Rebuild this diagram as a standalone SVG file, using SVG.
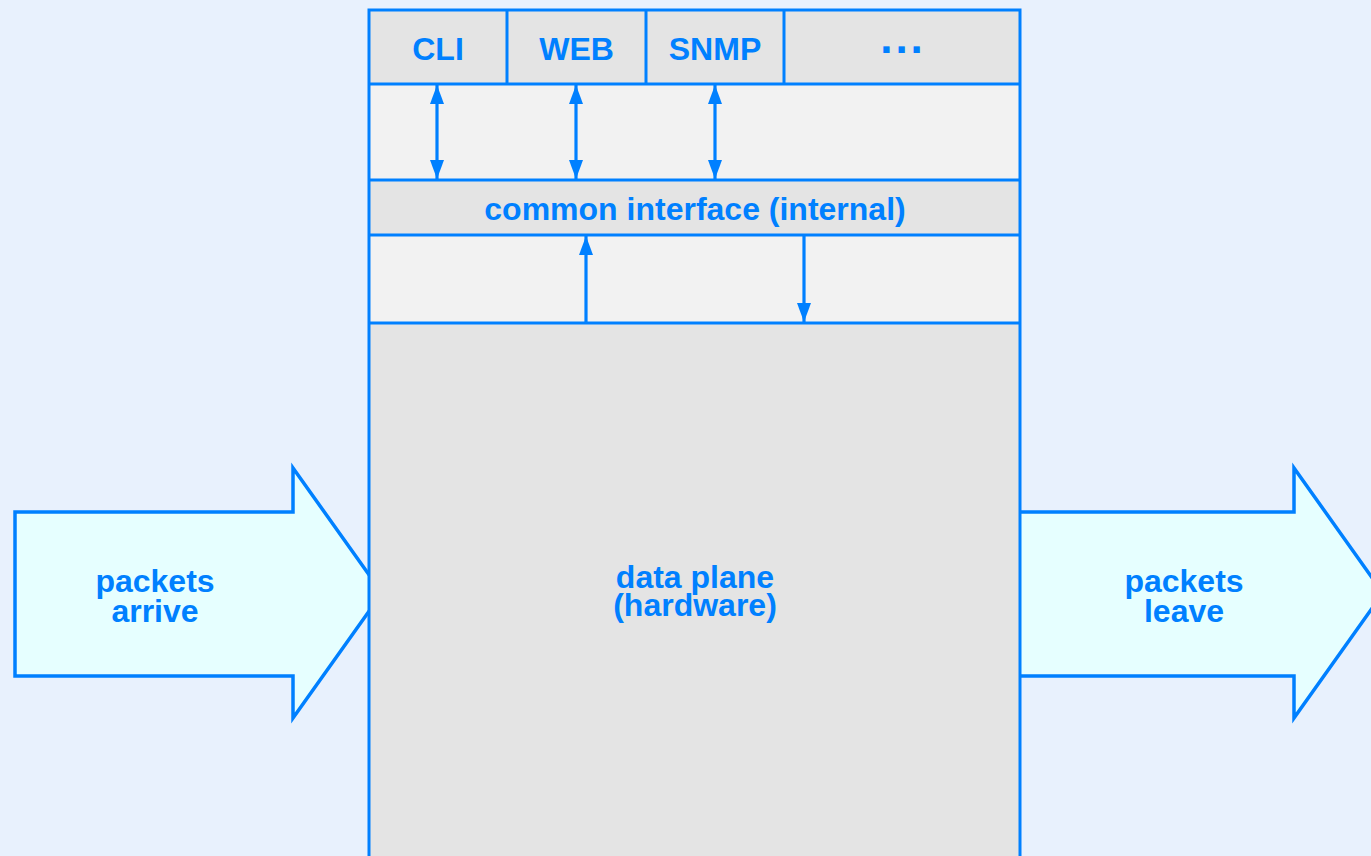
<svg xmlns="http://www.w3.org/2000/svg" width="1371" height="856" viewBox="0 0 1371 856">
<style>
.ln{stroke:#0080ff;stroke-width:3;fill:none}
.dark{fill:#e4e4e4}
.light{fill:#f2f2f2}
.blk{fill:#e6ffff;stroke:#0080ff;stroke-width:3.5;stroke-linejoin:miter}
.t{font-family:"Liberation Sans",Arial,Helvetica,sans-serif;font-weight:bold;font-size:32px;fill:#0080ff;text-anchor:middle}
.con{stroke:#0080ff;stroke-width:3.2;fill:none}
</style>
<defs>
<marker id="ah" markerUnits="userSpaceOnUse" markerWidth="19" markerHeight="14" refX="19" refY="7" orient="auto-start-reverse" viewBox="0 0 19 14">
<path d="M0,0 L19,7 L0,14 z" fill="#0080ff"/>
</marker>
</defs>
<rect x="0" y="0" width="1371" height="856" fill="#e8f1fd"/>
<g id="arrow-in">
<polygon class="blk" points="15,512 293,512 293,468 382,593 293,718 293,676 15,676"/>
<text class="t" x="155" y="592">packets</text>
<text class="t" x="155" y="622">arrive</text>
</g>
<g id="arrow-out">
<polygon class="blk" points="1016,512 1294,512 1294,468 1383,593 1294,718 1294,676 1016,676"/>
<text class="t" x="1184" y="592">packets</text>
<text class="t" x="1184" y="622">leave</text>
</g>
<g id="switch">
<rect class="dark" x="369" y="10" width="651" height="74"/>
<rect class="light" x="369" y="84" width="651" height="96"/>
<rect class="dark" x="369" y="180" width="651" height="55"/>
<rect class="light" x="369" y="235" width="651" height="88"/>
<rect class="dark" x="369" y="323" width="651" height="540"/>
<path class="ln" d="M369,870 V10 H1020 V870 M369,84 H1020 M369,180 H1020 M369,235 H1020 M369,323 H1020"/>
</g>
<g id="cli"><path class="ln" d="M507,10 V84"/><text class="t" x="438" y="60">CLI</text></g>
<g id="web"><path class="ln" d="M646,10 V84"/><text class="t" x="576.5" y="60">WEB</text></g>
<g id="snmp"><path class="ln" d="M784,10 V84"/><text class="t" x="715" y="60">SNMP</text></g>
<g id="more"><text class="t" x="903" y="53" style="font-size:44px;letter-spacing:3px">...</text></g>
<g id="common"><text class="t" x="695" y="220">common interface (internal)</text></g>
<g id="dataplane"><text class="t" x="695" y="588">data plane</text><text class="t" x="695" y="616">(hardware)</text></g>
<g id="connectors">
<line class="con" x1="437" y1="85" x2="437" y2="179" marker-start="url(#ah)" marker-end="url(#ah)"/>
<line class="con" x1="576" y1="85" x2="576" y2="179" marker-start="url(#ah)" marker-end="url(#ah)"/>
<line class="con" x1="715" y1="85" x2="715" y2="179" marker-start="url(#ah)" marker-end="url(#ah)"/>
<line class="con" x1="586" y1="322" x2="586" y2="236" marker-end="url(#ah)"/>
<line class="con" x1="804" y1="236" x2="804" y2="322" marker-end="url(#ah)"/>
</g>
</svg>
